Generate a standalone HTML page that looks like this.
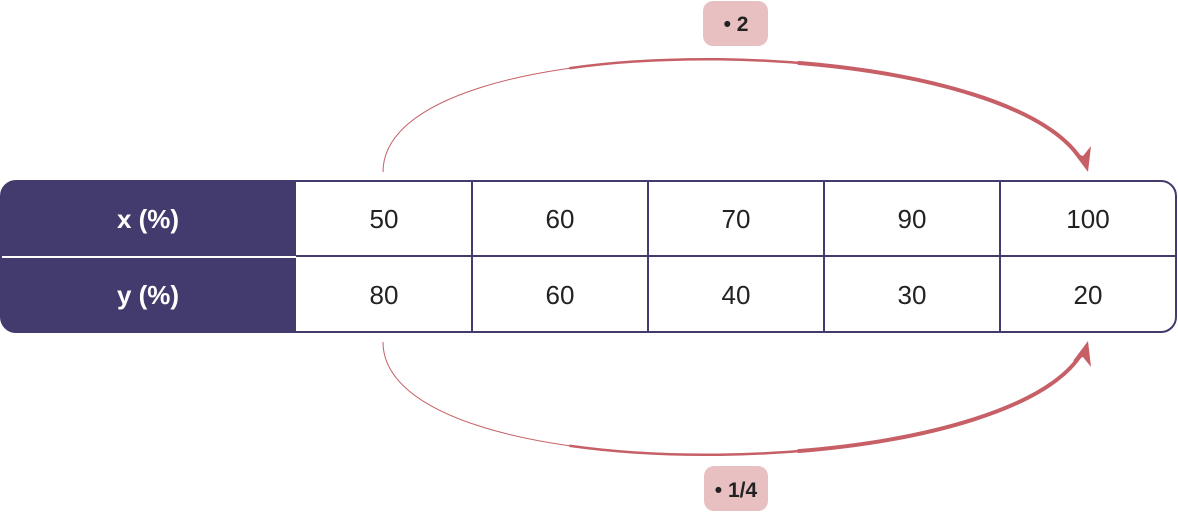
<!DOCTYPE html>
<html><head><meta charset="utf-8"><style>
body{margin:0;background:#fff;}
svg{display:block;}
</style></head><body>
<svg width="1178" height="512" viewBox="0 0 1178 512" xmlns="http://www.w3.org/2000/svg">
<defs><clipPath id="c"><rect x="1" y="181" width="1175" height="151" rx="15"/></clipPath></defs>
<g clip-path="url(#c)">
<rect x="1" y="181" width="295" height="151" fill="#433a6d"/>
<line x1="1" y1="257" x2="296" y2="257" stroke="#fff" stroke-width="2"/>
</g>
<rect x="1" y="181" width="1175" height="151" rx="15" fill="none" stroke="#433a6d" stroke-width="2"/>
<g stroke="#433a6d" stroke-width="2">
<line x1="296" y1="256" x2="1176" y2="256"/>
<line x1="472" y1="181" x2="472" y2="332"/>
<line x1="648" y1="181" x2="648" y2="332"/>
<line x1="824" y1="181" x2="824" y2="332"/>
<line x1="1000" y1="181" x2="1000" y2="332"/>
</g>
<g font-family="Liberation Sans, sans-serif" font-size="26" text-anchor="middle" fill="#222">
<text x="148" y="228" fill="#fff" font-weight="bold">x (%)</text>
<text x="148" y="304" fill="#fff" font-weight="bold">y (%)</text>
<text x="384" y="228">50</text><text x="560" y="228">60</text><text x="736" y="228">70</text><text x="912" y="228">90</text><text x="1088" y="228">100</text>
<text x="384" y="304">80</text><text x="560" y="304">60</text><text x="736" y="304">40</text><text x="912" y="304">30</text><text x="1088" y="304">20</text>
</g>
<g fill="none" stroke="#c65f66" stroke-linecap="butt">
<path d="M383,172 C383,22 990,26 1080,158" stroke-width="1" pathLength="100"/>
<path d="M383,172 C383,22 990,26 1080,158" stroke-width="2.5" pathLength="100" stroke-dasharray="0 30 70"/>
<path d="M383,172 C383,22 990,26 1080,158" stroke-width="4" pathLength="100" stroke-dasharray="0 60 40"/>
<path d="M383,342 C383,492 990,488 1080,356" stroke-width="1" pathLength="100"/>
<path d="M383,342 C383,492 990,488 1080,356" stroke-width="2.5" pathLength="100" stroke-dasharray="0 30 70"/>
<path d="M383,342 C383,492 990,488 1080,356" stroke-width="4" pathLength="100" stroke-dasharray="0 60 40"/>
</g>
<polygon points="1088,172 1073,152 1083,156 1091,146" fill="#c65f66"/>
<polygon points="1088,341 1073,361 1083,357 1091,367" fill="#c65f66"/>
<rect x="703" y="1" width="65" height="45" rx="10" fill="#e8c0c2"/>
<rect x="704" y="466" width="64" height="45" rx="10" fill="#e8c0c2"/>
<g font-family="Liberation Sans, sans-serif" font-size="21" font-weight="bold" fill="#222" text-anchor="middle">
<text x="736" y="31">• 2</text>
<text x="736" y="497">• 1/4</text>
</g>
</svg>
</body></html>
